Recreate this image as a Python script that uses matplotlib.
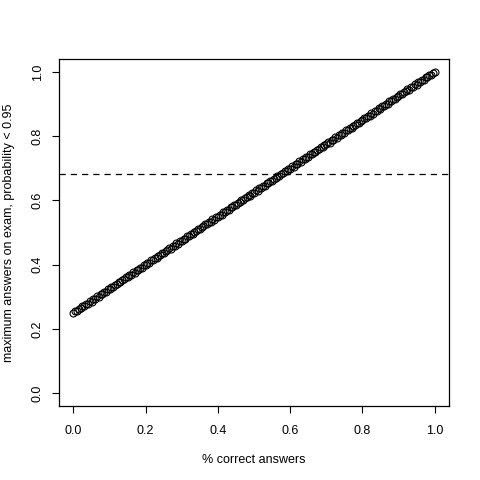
import matplotlib
matplotlib.use("Agg")
import matplotlib.pyplot as plt

x_vals = [0.000, 0.005, 0.010, 0.015, 0.020, 0.025, 0.030, 0.035, 0.040, 0.045,
          0.050, 0.055, 0.060, 0.065, 0.070, 0.075, 0.080, 0.085, 0.090, 0.095,
          0.100, 0.105, 0.110, 0.115, 0.120, 0.125, 0.130, 0.135, 0.140, 0.145,
          0.150, 0.155, 0.160, 0.165, 0.170, 0.175, 0.180, 0.185, 0.190, 0.195,
          0.200, 0.205, 0.210, 0.215, 0.220, 0.225, 0.230, 0.235, 0.240, 0.245,
          0.250, 0.255, 0.260, 0.265, 0.270, 0.275, 0.280, 0.285, 0.290, 0.295,
          0.300, 0.305, 0.310, 0.315, 0.320, 0.325, 0.330, 0.335, 0.340, 0.345,
          0.350, 0.355, 0.360, 0.365, 0.370, 0.375, 0.380, 0.385, 0.390, 0.395,
          0.400, 0.405, 0.410, 0.415, 0.420, 0.425, 0.430, 0.435, 0.440, 0.445,
          0.450, 0.455, 0.460, 0.465, 0.470, 0.475, 0.480, 0.485, 0.490, 0.495,
          0.500, 0.505, 0.510, 0.515, 0.520, 0.525, 0.530, 0.535, 0.540, 0.545,
          0.550, 0.555, 0.560, 0.565, 0.570, 0.575, 0.580, 0.585, 0.590, 0.595,
          0.600, 0.605, 0.610, 0.615, 0.620, 0.625, 0.630, 0.635, 0.640, 0.645,
          0.650, 0.655, 0.660, 0.665, 0.670, 0.675, 0.680, 0.685, 0.690, 0.695,
          0.700, 0.705, 0.710, 0.715, 0.720, 0.725, 0.730, 0.735, 0.740, 0.745,
          0.750, 0.755, 0.760, 0.765, 0.770, 0.775, 0.780, 0.785, 0.790, 0.795,
          0.800, 0.805, 0.810, 0.815, 0.820, 0.825, 0.830, 0.835, 0.840, 0.845,
          0.850, 0.855, 0.860, 0.865, 0.870, 0.875, 0.880, 0.885, 0.890, 0.895,
          0.900, 0.905, 0.910, 0.915, 0.920, 0.925, 0.930, 0.935, 0.940, 0.945,
          0.950, 0.955, 0.960, 0.965, 0.970, 0.975, 0.980, 0.985, 0.990, 0.995,
          1.000]
y_vals = [0.248, 0.256, 0.255, 0.263, 0.264, 0.271, 0.270, 0.278, 0.279, 0.286,
          0.285, 0.293, 0.294, 0.301, 0.300, 0.308, 0.309, 0.316, 0.315, 0.323,
          0.324, 0.331, 0.330, 0.338, 0.339, 0.346, 0.345, 0.353, 0.354, 0.361,
          0.360, 0.368, 0.369, 0.376, 0.375, 0.383, 0.384, 0.391, 0.390, 0.398,
          0.399, 0.406, 0.405, 0.413, 0.414, 0.421, 0.420, 0.428, 0.429, 0.436,
          0.435, 0.443, 0.444, 0.451, 0.450, 0.458, 0.459, 0.466, 0.465, 0.473,
          0.474, 0.481, 0.480, 0.488, 0.489, 0.496, 0.495, 0.503, 0.504, 0.511,
          0.510, 0.518, 0.519, 0.526, 0.525, 0.533, 0.534, 0.541, 0.540, 0.548,
          0.549, 0.556, 0.555, 0.563, 0.564, 0.571, 0.570, 0.578, 0.579, 0.586,
          0.585, 0.593, 0.594, 0.601, 0.600, 0.608, 0.609, 0.616, 0.615, 0.623,
          0.624, 0.631, 0.630, 0.638, 0.639, 0.646, 0.645, 0.653, 0.654, 0.661,
          0.660, 0.668, 0.669, 0.676, 0.675, 0.683, 0.684, 0.691, 0.690, 0.698,
          0.699, 0.706, 0.705, 0.713, 0.714, 0.721, 0.720, 0.728, 0.729, 0.736,
          0.735, 0.743, 0.744, 0.751, 0.750, 0.758, 0.759, 0.766, 0.765, 0.773,
          0.774, 0.781, 0.780, 0.788, 0.789, 0.796, 0.795, 0.803, 0.804, 0.811,
          0.810, 0.818, 0.819, 0.826, 0.825, 0.833, 0.834, 0.841, 0.840, 0.848,
          0.849, 0.856, 0.855, 0.863, 0.864, 0.871, 0.870, 0.878, 0.879, 0.886,
          0.885, 0.893, 0.894, 0.901, 0.900, 0.908, 0.909, 0.916, 0.915, 0.923,
          0.924, 0.931, 0.930, 0.938, 0.939, 0.946, 0.945, 0.953, 0.954, 0.961,
          0.960, 0.968, 0.969, 0.976, 0.975, 0.983, 0.984, 0.991, 0.990, 0.997,
          0.999]
threshold = 0.682
x_ticks = [0.0, 0.2, 0.4, 0.6, 0.8, 1.0]
y_ticks = [0.0, 0.2, 0.4, 0.6, 0.8, 1.0]
x_label = "% correct answers"
y_label = "maximum answers on exam, probability < 0.95"

plt.rcParams['font.family'] = ['Liberation Sans', 'DejaVu Sans']
plt.rcParams['font.size'] = 9

fig = plt.figure(figsize=(4.8, 4.8), dpi=100)
ax = fig.add_axes([59/480, 74/480, 390/480, 347/480])

ax.plot(x_vals, y_vals, linestyle='none', marker='o', markersize=5,
        markerfacecolor='none', markeredgecolor='black', markeredgewidth=0.8)
ax.axhline(threshold, color='black', linewidth=0.9, linestyle=(0, (5, 4)))

ax.set_xlim(-0.04, 1.04)
ax.set_ylim(-0.04, 1.04)
ax.set_xticks(x_ticks)
ax.set_yticks(y_ticks)
ax.set_xticklabels([f"{t:.1f}" for t in x_ticks])
ax.set_yticklabels([f"{t:.1f}" for t in y_ticks], rotation=90, va='center')
ax.tick_params(axis='x', direction='out', length=5, width=0.8, pad=9)
ax.tick_params(axis='y', direction='out', length=5, width=0.8, pad=6)
for s in ax.spines.values():
    s.set_linewidth(0.9)

ax.set_xlabel(x_label, labelpad=12)
ax.set_ylabel(y_label, labelpad=12)

fig.savefig("out.png", dpi=100)
